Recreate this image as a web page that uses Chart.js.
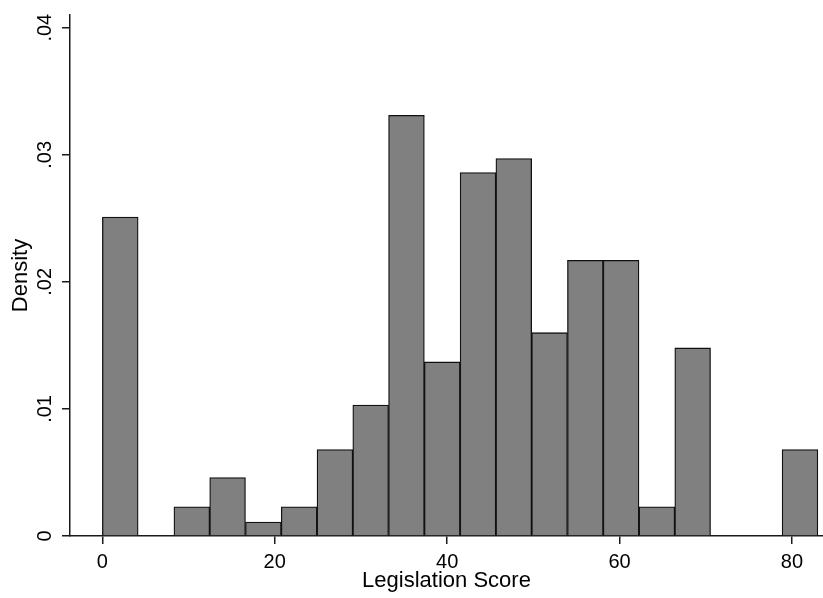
<!DOCTYPE html>
<html>
<head>
<meta charset="utf-8">
<script src="https://cdn.jsdelivr.net/npm/chart.js@4.4.1/dist/chart.umd.min.js"></script>
<style>
  html, body { margin: 0; padding: 0; background: #fff; }
  #wrap { width: 823px; height: 598px; }
</style>
</head>
<body>
<div id="wrap"><canvas id="hist" width="823" height="598"></canvas></div>
<script>
// bin centres (width about 4.15 points)
const binCentres = [2.08, 6.23, 10.38, 14.53, 18.68, 22.83, 26.98, 31.13, 35.28, 39.43,
                    43.58, 47.73, 51.88, 56.03, 60.18, 64.33, 68.48, 72.63, 76.78, 80.93];
// density per bin (null = empty bin)
const density = [0.0251, null, 0.0023, 0.0046, 0.0011, 0.0023, 0.0068, 0.0103, 0.0331, 0.0137,
                 0.0286, 0.0297, 0.0160, 0.0217, 0.0217, 0.0023, 0.0148, null, null, 0.0068];
const xTicks = [0, 20, 40, 60, 80];
const yTicks = [0, 0.01, 0.02, 0.03, 0.04];

const points = binCentres.map((x, i) => ({ x: x, y: density[i] }));
const font = "'Liberation Sans', Arial, sans-serif";
const ink = "#1a1a1a";

new Chart(document.getElementById("hist"), {
  type: "bar",
  data: {
    datasets: [
      {
        label: "Density",
        data: points,
        backgroundColor: "#808080",
        borderColor: "#111",
        borderWidth: 1.3,
        barPercentage: 1,
        categoryPercentage: 1,
      },
    ],
  },
  options: {
    responsive: false,
    animation: false,
    devicePixelRatio: 1,
    layout: { padding: { top: 11, right: 0, bottom: 0, left: 0 } },
    plugins: {
      legend: { display: false },
      tooltip: { enabled: false },
    },
    scales: {
      x: {
        type: "linear",
        min: -3.75,
        max: 83.6,
        offset: false,
        afterBuildTicks: (s) => { s.ticks = xTicks.map((v) => ({ value: v })); },
        afterFit: (s) => { s.height = 62; },
        ticks: {
          color: "#000",
          font: { family: font, size: 20 },
          padding: 6,
          maxRotation: 0,
          autoSkip: false,
        },
        grid: { display: true, drawOnChartArea: false, offset: false, tickLength: 8, color: ink, lineWidth: 1.5 },
        border: { display: true, color: ink, width: 1.5 },
        title: {
          display: true,
          text: "Legislation Score",
          color: "#000",
          font: { family: font, size: 22 },
          padding: { top: 0, bottom: 4 },
        },
      },
      y: {
        min: 0,
        max: 0.041,
        afterBuildTicks: (s) => { s.ticks = yTicks.map((v) => ({ value: v })); },
        afterFit: (s) => { s.width = 70; },
        ticks: {
          color: "#000",
          font: { family: font, size: 20 },
          padding: 3,
          minRotation: 90,
          maxRotation: 90,
          crossAlign: "center",
          autoSkip: false,
          callback: (v) => (v === 0 ? "0" : v.toFixed(2).replace(/^0/, "")),
        },
        grid: { display: true, drawOnChartArea: false, tickLength: 8, color: ink, lineWidth: 1.5 },
        border: { display: true, color: ink, width: 1.5 },
        title: {
          display: true,
          text: "Density",
          color: "#000",
          font: { family: font, size: 22 },
          padding: { top: 8, bottom: 0 },
        },
      },
    },
  },
});
</script>
</body>
</html>
